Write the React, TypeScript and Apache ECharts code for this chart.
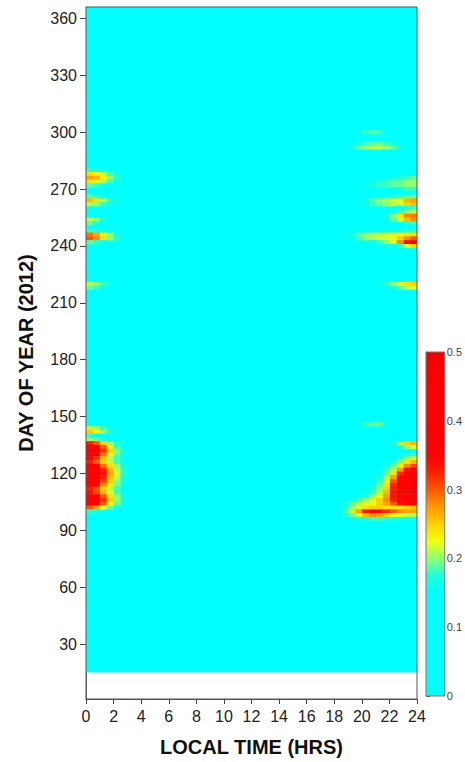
import React, { useEffect, useRef } from "react";
import * as echarts from "echarts";

// ---------- data ----------
const xMin = 0;
const xMax = 24;
const xInterval = 2;
const dayMin = 1;
const dayMax = 366;
const yTicks = [30, 60, 90, 120, 150, 180, 210, 240, 270, 300, 330, 360];
const observedSpan = [[0, 24, 15, 366]]; // [hourFrom, hourTo, dayFrom, dayTo] with valid data (value ~0)
const colorbarMin = 0;
const colorbarMax = 0.5;
const colorbarInterval = 0.1;

// bin centres (hours) of the columns next to midnight
const leftHours = [0.25, 0.75, 1.25, 1.75, 2.25, 2.75];
const rightHours = [23.75, 23.25, 22.75, 22.25, 21.75, 21.25, 20.75, 20.25, 19.75, 19.25, 18.75];

// [day, values at leftHours...]
const leftRows: number[][] = [
  [280, 0.18, 0.17, 0.16],
  [278, 0.24, 0.23, 0.21, 0.18, 0.16],
  [276, 0.27, 0.26, 0.23, 0.2, 0.17],
  [274, 0.24, 0.23, 0.21, 0.18, 0.16],
  [272, 0.19, 0.18, 0.16],
  [266, 0.19, 0.18, 0.16],
  [264, 0.26, 0.24, 0.21, 0.18, 0.16],
  [262, 0.21, 0.2, 0.18, 0.16],
  [254, 0.21, 0.2, 0.17],
  [252, 0.19, 0.17],
  [248, 0.18, 0.17, 0.16],
  [246, 0.29, 0.27, 0.23, 0.2, 0.17],
  [244, 0.3, 0.28, 0.24, 0.2, 0.17],
  [242, 0.19, 0.18, 0.16],
  [220, 0.21, 0.2, 0.18, 0.16],
  [218, 0.19, 0.18, 0.16],
  [144, 0.21, 0.2, 0.18, 0.16],
  [142, 0.25, 0.23, 0.2, 0.17],
  [140, 0.18, 0.16],
  [138, 0.2, 0.19, 0.17],
  [136, 0.33, 0.3, 0.25, 0.2, 0.17],
  [134, 0.42, 0.38, 0.3, 0.23, 0.18],
  [132, 0.45, 0.41, 0.32, 0.25, 0.2, 0.16],
  [130, 0.42, 0.37, 0.29, 0.23, 0.19, 0.16],
  [128, 0.36, 0.32, 0.26, 0.21, 0.18],
  [126, 0.33, 0.3, 0.25, 0.21, 0.18],
  [124, 0.4, 0.36, 0.29, 0.24, 0.2, 0.16],
  [122, 0.45, 0.41, 0.33, 0.26, 0.21, 0.17],
  [120, 0.46, 0.42, 0.34, 0.27, 0.22, 0.17],
  [118, 0.46, 0.42, 0.33, 0.26, 0.21, 0.17],
  [116, 0.44, 0.4, 0.31, 0.25, 0.2, 0.16],
  [114, 0.39, 0.35, 0.28, 0.23, 0.19],
  [112, 0.33, 0.3, 0.25, 0.21, 0.18],
  [110, 0.34, 0.31, 0.26, 0.22, 0.18],
  [108, 0.42, 0.38, 0.3, 0.24, 0.2, 0.16],
  [106, 0.45, 0.41, 0.32, 0.25, 0.2, 0.16],
  [104, 0.43, 0.39, 0.3, 0.23, 0.19],
  [102, 0.3, 0.27, 0.22, 0.19, 0.16],
  [100, 0.18, 0.17],
];

// [day, values at rightHours...]
const rightRows: number[][] = [
  [300, 0, 0, 0, 0, 0, 0.18, 0.19, 0.18],
  [294, 0, 0, 0, 0.17, 0.18, 0.19, 0.19, 0.18, 0.17],
  [292, 0, 0, 0.17, 0.19, 0.2, 0.21, 0.21, 0.2, 0.19, 0.17],
  [276, 0.19, 0.18, 0.17, 0.16],
  [274, 0.2, 0.2, 0.19, 0.19, 0.18, 0.17, 0.16],
  [272, 0.2, 0.2, 0.19, 0.19, 0.18, 0.18, 0.17, 0.16],
  [270, 0.18, 0.18, 0.17, 0.16],
  [266, 0.19, 0.19, 0.18, 0.17, 0.16],
  [264, 0.27, 0.26, 0.23, 0.22, 0.21, 0.2, 0.19, 0.17],
  [262, 0.26, 0.25, 0.22, 0.21, 0.2, 0.19, 0.18, 0.16],
  [260, 0.18, 0.17, 0.16],
  [258, 0.21, 0.2, 0.18, 0.16],
  [256, 0.29, 0.28, 0.24, 0.2, 0.17],
  [254, 0.28, 0.26, 0.22, 0.19, 0.16],
  [252, 0.18, 0.17],
  [248, 0.18, 0.17, 0.17, 0.16, 0.16],
  [246, 0.24, 0.24, 0.23, 0.22, 0.22, 0.21, 0.21, 0.2, 0.19, 0.17, 0.16],
  [244, 0.3, 0.28, 0.25, 0.23, 0.22, 0.22, 0.21, 0.2, 0.18, 0.16],
  [242, 0.36, 0.34, 0.28, 0.23, 0.2, 0.18, 0.16],
  [240, 0.25, 0.22, 0.18, 0.16],
  [220, 0.25, 0.24, 0.22, 0.2, 0.18, 0.16],
  [218, 0.22, 0.21, 0.19, 0.17],
  [146, 0, 0, 0, 0, 0, 0.19, 0.19, 0.18],
  [136, 0.26, 0.25, 0.21, 0.17],
  [134, 0.22, 0.2, 0.17],
  [130, 0.18, 0.16],
  [128, 0.22, 0.2, 0.17],
  [126, 0.26, 0.24, 0.2, 0.17],
  [124, 0.31, 0.28, 0.23, 0.19, 0.16],
  [122, 0.36, 0.34, 0.27, 0.21, 0.18],
  [120, 0.42, 0.4, 0.32, 0.24, 0.19, 0.16],
  [118, 0.45, 0.43, 0.36, 0.27, 0.21, 0.17],
  [116, 0.47, 0.45, 0.38, 0.3, 0.22, 0.18],
  [114, 0.48, 0.46, 0.4, 0.32, 0.24, 0.19, 0.16],
  [112, 0.48, 0.47, 0.41, 0.33, 0.25, 0.2, 0.17],
  [110, 0.48, 0.46, 0.41, 0.34, 0.26, 0.21, 0.18, 0.16],
  [108, 0.47, 0.45, 0.4, 0.34, 0.27, 0.23, 0.2, 0.17],
  [106, 0.45, 0.43, 0.38, 0.33, 0.28, 0.25, 0.22, 0.2, 0.18, 0.16],
  [104, 0.4, 0.38, 0.34, 0.3, 0.27, 0.25, 0.23, 0.22, 0.21, 0.19, 0.16],
  [102, 0.26, 0.25, 0.24, 0.24, 0.24, 0.25, 0.25, 0.24, 0.22, 0.2, 0.17],
  [100, 0.27, 0.27, 0.28, 0.3, 0.32, 0.34, 0.35, 0.33, 0.27, 0.22, 0.18],
  [98, 0.21, 0.21, 0.22, 0.23, 0.25, 0.27, 0.28, 0.26, 0.22, 0.19, 0.17],
  [96, 0.16, 0.16, 0.17, 0.17, 0.17, 0.18, 0.18, 0.17, 0.16],
];

// ---------- styling ----------
const CELL_HOURS = 0.5;
const CELL_DAYS = 2;
const FONT = "'Liberation Sans', Arial, sans-serif";
const colorScale = [
  "#00ffff", "#00ffff", "#00ffff", "#00ffff", "#00ffff", "#00ffff", "#00ffff",
  "#20ffd8", "#90ff70", "#f0ff10", "#ffd000", "#ff9800", "#ff5800", "#ff2000",
  "#ff0000", "#ff0000", "#ff0000", "#ff0000", "#ff0000", "#fa0000", "#f00000",
];

function buildCells(): number[][] {
  const cells: number[][] = [];
  leftRows.forEach(([day, ...vals]) =>
    vals.forEach((v, i) => {
      if (v > 0) cells.push([leftHours[i], day, v]);
    })
  );
  rightRows.forEach(([day, ...vals]) =>
    vals.forEach((v, i) => {
      if (v > 0) cells.push([rightHours[i], day, v]);
    })
  );
  return cells;
}

export default function App() {
  const ref = useRef<HTMLDivElement>(null);
  useEffect(() => {
    if (!ref.current) return;
    const chart = echarts.init(ref.current, undefined, { renderer: "svg" });
    const cells = buildCells();
    const gradientStops = colorScale.map((c, i) => ({ offset: i / (colorScale.length - 1), color: c }));
    const axisText = { color: "#222", fontSize: 16, fontFamily: FONT };
    const option: any = {
      animation: false,
      backgroundColor: "#ffffff",
      grid: [
        { left: 86, right: 48, top: 7, bottom: 61, show: true, z: 10, borderColor: "#555", borderWidth: 1, backgroundColor: "transparent" },
        { left: 426, top: 352, width: 20, height: 344, show: true, z: 10, borderColor: "#777", borderWidth: 1, backgroundColor: "transparent" },
      ],
      xAxis: [
        {
          type: "value", gridIndex: 0, min: xMin, max: xMax, interval: xInterval,
          name: "LOCAL TIME (HRS)", nameLocation: "middle", nameGap: 38,
          nameTextStyle: { fontSize: 20, fontWeight: "bold", color: "#111", fontFamily: FONT },
          axisLine: { show: true, lineStyle: { color: "#555" } },
          axisTick: { show: true, length: 5, lineStyle: { color: "#444" } },
          axisLabel: { ...axisText, margin: 9 },
          splitLine: { show: false },
        },
        { type: "value", gridIndex: 1, min: 0, max: 1, show: false },
      ],
      yAxis: [
        {
          type: "value", gridIndex: 0, min: dayMin, max: dayMax,
          name: "DAY OF YEAR (2012)", nameLocation: "middle", nameGap: 50,
          nameTextStyle: { fontSize: 20, fontWeight: "bold", color: "#111", fontFamily: FONT },
          axisLine: { show: true, lineStyle: { color: "#666" } },
          axisTick: { show: true, length: 6, customValues: yTicks, lineStyle: { color: "#444" } },
          axisLabel: { ...axisText, margin: 9, customValues: yTicks },
          splitLine: { show: false },
        },
        {
          type: "value", gridIndex: 1, position: "right", min: colorbarMin, max: colorbarMax, interval: colorbarInterval,
          axisLine: { show: true, lineStyle: { color: "#777" } },
          axisTick: { show: true, length: 4, lineStyle: { color: "#555" } },
          axisLabel: { color: "#444", fontSize: 11, fontFamily: FONT, margin: 2 },
          splitLine: { show: false },
        },
      ],
      visualMap: {
        type: "continuous", show: false, min: colorbarMin, max: colorbarMax, dimension: 2, seriesIndex: 1,
        inRange: { color: colorScale },
      },
      series: [
        {
          type: "custom", xAxisIndex: 0, yAxisIndex: 0, z: 1, clip: true,
          data: observedSpan, encode: { x: [0, 1], y: [2, 3] },
          renderItem: (_p: any, api: any) => {
            const a = api.coord([api.value(0), api.value(3)]);
            const b = api.coord([api.value(1), api.value(2)]);
            return { type: "rect", shape: { x: a[0], y: a[1], width: b[0] - a[0], height: b[1] - a[1] }, style: { fill: "#00ffff" } };
          },
        },
        {
          type: "custom", xAxisIndex: 0, yAxisIndex: 0, z: 2, clip: true,
          data: cells, encode: { x: 0, y: 1 }, dimensions: ["hour", "day", "value"],
          renderItem: (_p: any, api: any) => {
            const h = api.value(0);
            const d = api.value(1);
            const a = api.coord([h - CELL_HOURS / 2, d + CELL_DAYS / 2]);
            const b = api.coord([h + CELL_HOURS / 2, d - CELL_DAYS / 2]);
            return {
              type: "rect",
              shape: { x: a[0], y: a[1], width: b[0] - a[0] + 0.4, height: b[1] - a[1] + 0.4 },
              style: { fill: api.visual("color") },
            };
          },
        },
        {
          type: "custom", xAxisIndex: 1, yAxisIndex: 1, z: 2,
          data: [[0, 1, colorbarMin, colorbarMax]], encode: { x: [0, 1], y: [2, 3] },
          renderItem: (_p: any, api: any) => {
            const a = api.coord([api.value(0), api.value(3)]);
            const b = api.coord([api.value(1), api.value(2)]);
            return {
              type: "rect",
              shape: { x: a[0], y: a[1], width: b[0] - a[0], height: b[1] - a[1] },
              style: { fill: new echarts.graphic.LinearGradient(0, 1, 0, 0, gradientStops) },
            };
          },
        },
      ],
    };
    chart.setOption(option);
    return () => chart.dispose();
  }, []);
  return <div ref={ref} style={{ position: "absolute", left: 0, top: 0, width: 465, height: 762 }} />;
}
